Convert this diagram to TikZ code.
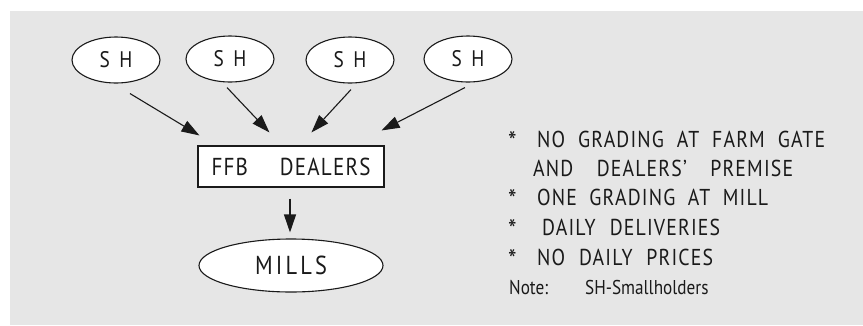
\documentclass[tikz,border=0pt]{standalone}
\usepackage{fontspec}
\setmainfont[FakeStretch=0.86]{PT Sans}
\usetikzlibrary{shapes.geometric,arrows.meta,calc}
\definecolor{bggray}{HTML}{E6E6E6}
\definecolor{inkc}{HTML}{1A1A1A}
\newcommand{\lsp}{\addfontfeature{LetterSpace=5}}
\tikzset{
  shnode/.style={ellipse,draw=inkc,fill=white,line width=1.1pt,inner sep=0pt,minimum width=88pt,minimum height=46pt,font=\fontsize{22.5}{22.5}\selectfont,text=inkc},
  boxnode/.style={rectangle,draw=inkc,fill=white,line width=1.1pt,inner sep=0pt,minimum width=186pt,minimum height=41pt,font=\fontsize{24.5}{24.5}\selectfont\lsp,text=inkc},
  millnode/.style={ellipse,draw=inkc,fill=white,line width=1.1pt,inner sep=0pt,minimum width=184pt,minimum height=53pt,font=\fontsize{26}{26}\selectfont,text=inkc},
  arr/.style={draw=inkc,line width=1.1pt,-{Triangle[length=18pt,width=12pt]}},
  txt/.style={anchor=base west,inner sep=0pt,font=\fontsize{23}{23}\selectfont\lsp,text=inkc},
  startxt/.style={anchor=base west,inner sep=0pt,font=\fontsize{28}{28}\selectfont,text=inkc},
  notetxt/.style={anchor=base west,inner sep=0pt,font=\fontsize{20}{20}\selectfont,text=inkc}
}
\begin{document}
\begin{tikzpicture}[x=1pt,y=-1pt]
\useasboundingbox (0,0) rectangle (863,325);
\fill[bggray] (10,11) rectangle (863,325);
\node[shnode] (sh1) at (116,60) {\makebox[33pt][s]{S H}};
\node[shnode] (sh2) at (230,59) {\makebox[33pt][s]{S H}};
\node[shnode] (sh3) at (350,60) {\makebox[33pt][s]{S H}};
\node[shnode] (sh4) at (468,59) {\makebox[33pt][s]{S H}};
\node[boxnode] (box) at (291,166.5) {\makebox[159pt][s]{FFB DEALERS}};
\node[millnode] (mills) at (291,265.5) {\makebox[72pt]{M\hfill I\hfill L\hfill L\hfill S}};
\draw[arr] ($(sh1.south)+(14,10)$) -- ($(box.north west)+(2,-10)$);
\draw[arr] ($(sh2.south)+(-3,5)$) -- ($(box.north west)+(72,-13)$);
\draw[arr] ($(sh3.south)+(1,6)$) -- ($(box.north west)+(114,-13)$);
\draw[arr] ($(sh4.south)+(-3,5)$) -- ($(box.north east)+(-3,-15)$);
\draw[arr] ($(box.south)+(-1,11)$) -- ($(mills.north)+(-1,-6)$);
% notes
\node[startxt] (s1) at (508,151) {*};
\node[txt] (l1) at (537,147) {\makebox[288pt][s]{NO GRADING AT FARM GATE}};
\node[txt] (l2) at (533,176) {\makebox[260pt][s]{AND DEALERS’ PREMISE}};
\node[startxt] (s3) at (508,209) {*};
\node[txt] (l3) at (537,205) {\makebox[231pt][s]{ONE GRADING AT MILL}};
\node[startxt] (s4) at (508,239) {*};
\node[txt] (l4) at (542,235) {\makebox[178pt][s]{DAILY DELIVERIES}};
\node[startxt] (s5) at (508,269) {*};
\node[txt] (l5) at (537,265) {\makebox[176pt][s]{NO DAILY PRICES}};
\node[notetxt] (n1) at (509,294) {Note:};
\node[notetxt] (n2) at (585,294) {\makebox[134pt][s]{SH-Smallholders}};
\end{tikzpicture}
\end{document}
